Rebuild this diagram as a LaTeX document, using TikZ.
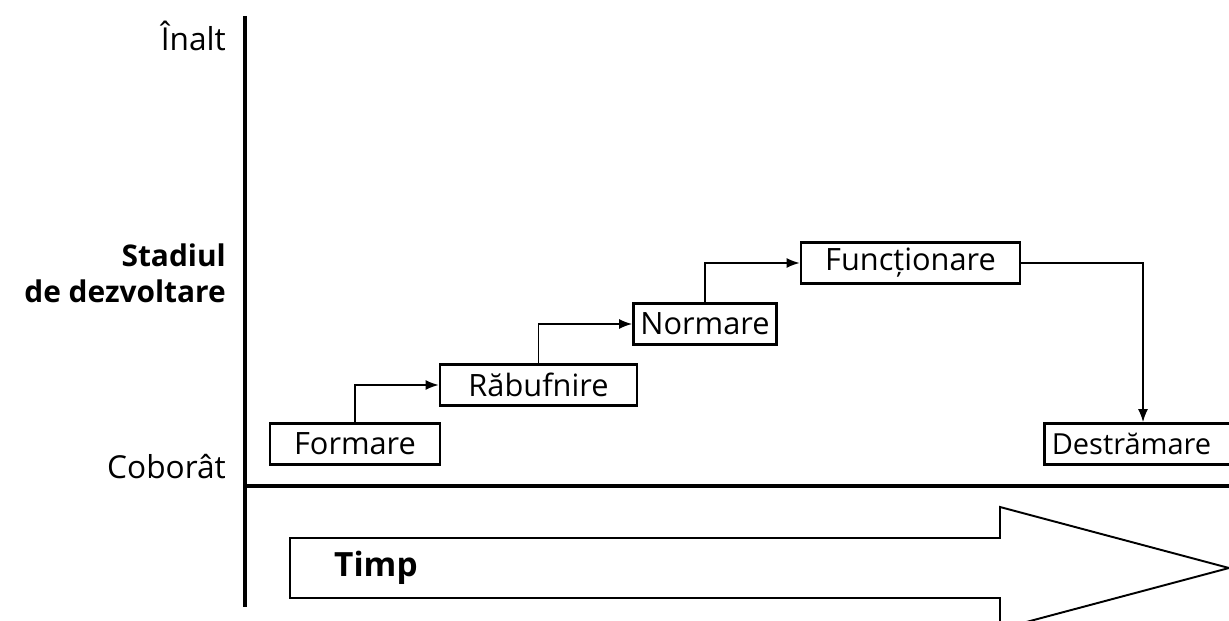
\documentclass[tikz,border=0pt]{standalone}
\usepackage{fontspec}
\setmainfont{Open Sans}
\usetikzlibrary{arrows.meta}
\newcommand{\stepto}[2]{
	\draw[link,-tip](#1.north)|-(#2.west)
}

\begin{document}
\begin{tikzpicture}[x=0.02cm,y=-0.02cm,
		stage/.style={draw,line width=1.5pt,inner xsep=0pt,minimum height=0.82cm,font=\fontsize{17.5}{21}\selectfont},
		axis/.style={line width=1.8pt},
		link/.style={line width=1pt},
		tip/.tip={Latex[length=0.26cm,width=0.2cm]},
		lbl/.style={anchor=east,font=\fontsize{18}{21}\selectfont}]
		\clip(0,0)rectangle(1229,621);
		\fill[white](0,0)rectangle(1229,621);
		% axes
		\draw[axis](245,16)--(245,607);
		\draw[axis](245,486)--(1229,486);
		\node[lbl](inalt) at(232,36){Înalt};
		\node[lbl,align=right,font=\fontsize{17}{20.5}\selectfont\bfseries](stadiu) at(232,273){Stadiul\\de dezvoltare};
		\node[lbl](cobor) at(232,467){Coborât};
		% stages
		\node[stage,minimum width=3.4cm](form) at(355,444){Formare};
		\node[stage,minimum width=3.94cm](rab) at(538.5,385){Răbufnire};
		\node[stage,minimum width=2.86cm](norm) at(705,324){Normare};
		\node[stage,minimum width=4.38cm](func) at(910.5,263){Funcționare};
		\node[stage,anchor=west,minimum width=4.2cm,inner xsep=4pt,align=left,text width=3.9cm,font=\fontsize{16.5}{20}\selectfont](destr) at(1043,444){Destrămare};
		\stepto{form}{rab};
		\stepto{rab}{norm};
		\stepto{norm}{func};
		\coordinate(turn) at(1143,263);
		\draw[link,-tip](func.east)--(turn)--(turn|-destr.north);
		% time arrow
		\draw[line width=1.1pt](290,538)--(1000,538)--(1000,507)--(1229,568)--(1000,629)--(1000,598)--(290,598)--cycle;
		\node[anchor=west,font=\fontsize{19}{22}\selectfont\bfseries](timp) at(328,568){Timp};
	\end{tikzpicture}
\end{document}
